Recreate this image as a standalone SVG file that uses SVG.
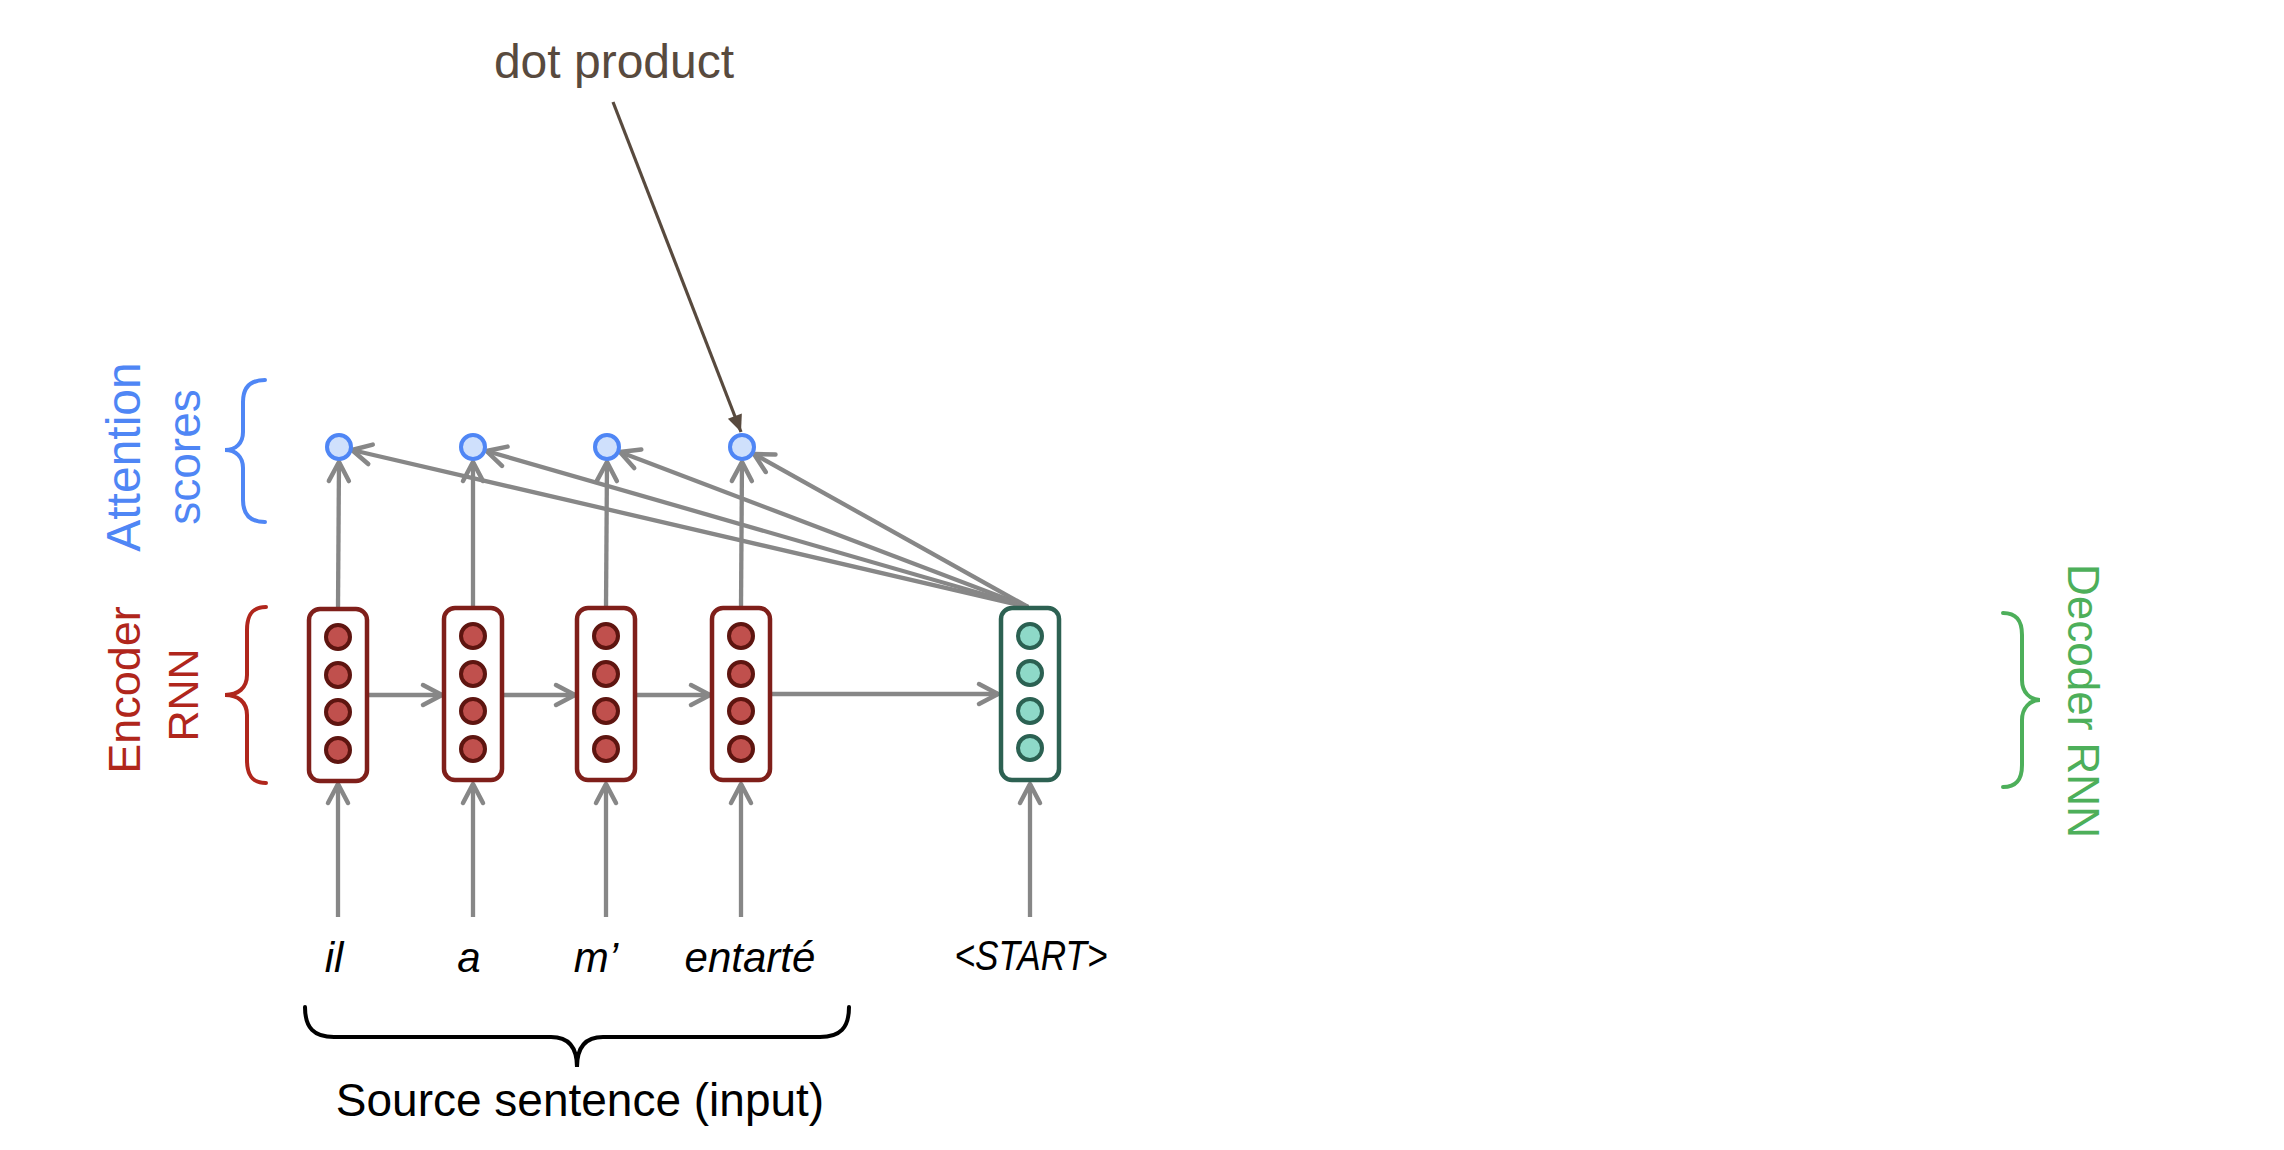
<svg xmlns="http://www.w3.org/2000/svg" width="2284" height="1150" viewBox="0 0 2284 1150">
<style>
.enc{fill:#ffffff;stroke:#7f1f1a;stroke-width:4.5}
.encc{fill:#c0504d;stroke:#5e1510;stroke-width:4}
.dec{fill:#ffffff;stroke:#2d6152;stroke-width:4.5}
.decc{fill:#8ed9c8;stroke:#2b6152;stroke-width:4}
.score{fill:#cfe0fc;stroke:#4f86f5;stroke-width:4}
.conn{stroke:#878787;stroke-width:4.3;fill:none;marker-end:url(#arr)}
.word{font-family:"Liberation Sans",Arial,sans-serif;font-style:italic;font-size:42px;fill:#000;text-anchor:middle}
.lbl{font-family:"Liberation Sans",Arial,sans-serif;text-anchor:middle}
.brace{fill:none;stroke-width:4;stroke-linecap:round}
</style>
<defs>
<marker id="arr" markerUnits="userSpaceOnUse" markerWidth="30" markerHeight="30" viewBox="-25 -15 30 30" refX="0" refY="0" orient="auto" overflow="visible">
<path d="M-19,-10 L0,0 L-19,10" fill="none" stroke="#878787" stroke-width="4.5" stroke-linecap="round" stroke-linejoin="round"/>
</marker>
<marker id="tri" markerUnits="userSpaceOnUse" markerWidth="30" markerHeight="30" viewBox="-25 -15 30 30" refX="0" refY="0" orient="auto" overflow="visible">
<path d="M-17,-7.5 L0,0 L-17,7.5 z" fill="#584a3e"/>
</marker>
</defs>
<rect width="2284" height="1150" fill="#ffffff"/>

<g id="connectors">
<line class="conn" x1="338" y1="917" x2="338" y2="784"/>
<line class="conn" x1="473" y1="917" x2="473" y2="784"/>
<line class="conn" x1="606" y1="917" x2="606" y2="784"/>
<line class="conn" x1="741" y1="917" x2="741" y2="784"/>
<line class="conn" x1="1030" y1="917" x2="1030" y2="784"/>
<line class="conn" x1="368" y1="695" x2="442" y2="695"/>
<line class="conn" x1="503" y1="695" x2="575" y2="695"/>
<line class="conn" x1="635" y1="695" x2="710" y2="695"/>
<line class="conn" x1="771" y1="694" x2="998" y2="694"/>
<line class="conn" x1="338" y1="607" x2="339" y2="462"/>
<line class="conn" x1="473" y1="607" x2="473" y2="462"/>
<line class="conn" x1="606" y1="607" x2="607" y2="462"/>
<line class="conn" x1="741" y1="607" x2="742" y2="462"/>
<line class="conn" x1="1028" y1="607" x2="352" y2="450"/>
<line class="conn" x1="1028" y1="607" x2="486.5" y2="451"/>
<line class="conn" x1="1028" y1="607" x2="620" y2="452"/>
<line class="conn" x1="1028" y1="607" x2="754" y2="454"/>
<line x1="613" y1="102" x2="741" y2="432" stroke="#584a3e" stroke-width="3.2" marker-end="url(#tri)"/>
</g>

<g id="enc1">
<rect class="enc" x="309" y="609" width="58" height="172" rx="11"/>
<circle class="encc" cx="338" cy="637" r="12"/>
<circle class="encc" cx="338" cy="675" r="12"/>
<circle class="encc" cx="338" cy="712" r="12"/>
<circle class="encc" cx="338" cy="750" r="12"/>
</g>
<g id="enc2">
<rect class="enc" x="444" y="608" width="58" height="172" rx="11"/>
<circle class="encc" cx="473" cy="636" r="12"/>
<circle class="encc" cx="473" cy="674" r="12"/>
<circle class="encc" cx="473" cy="711" r="12"/>
<circle class="encc" cx="473" cy="749" r="12"/>
</g>
<g id="enc3">
<rect class="enc" x="577" y="608" width="58" height="172" rx="11"/>
<circle class="encc" cx="606" cy="636" r="12"/>
<circle class="encc" cx="606" cy="674" r="12"/>
<circle class="encc" cx="606" cy="711" r="12"/>
<circle class="encc" cx="606" cy="749" r="12"/>
</g>
<g id="enc4">
<rect class="enc" x="712" y="608" width="58" height="172" rx="11"/>
<circle class="encc" cx="741" cy="636" r="12"/>
<circle class="encc" cx="741" cy="674" r="12"/>
<circle class="encc" cx="741" cy="711" r="12"/>
<circle class="encc" cx="741" cy="749" r="12"/>
</g>
<g id="dec1">
<rect class="dec" x="1001" y="608" width="58" height="172" rx="11"/>
<circle class="decc" cx="1030" cy="636" r="12"/>
<circle class="decc" cx="1030" cy="673" r="12"/>
<circle class="decc" cx="1030" cy="711" r="12"/>
<circle class="decc" cx="1030" cy="748" r="12"/>
</g>

<g id="score1"><circle class="score" cx="339" cy="447" r="12"/></g>
<g id="score2"><circle class="score" cx="473" cy="447" r="12"/></g>
<g id="score3"><circle class="score" cx="607" cy="447" r="12"/></g>
<g id="score4"><circle class="score" cx="742" cy="447" r="12"/></g>

<g id="dot-product-label">
<text class="lbl" x="614" y="78" font-size="48" fill="#584a3e">dot product</text>
</g>

<g id="words">
<text class="word" x="334" y="972">il</text>
<text class="word" x="469" y="972">a</text>
<text class="word" x="596" y="972">m’</text>
<text class="word" x="750" y="972">entarté</text>
<text class="word" x="1031" y="970" font-size="40" textLength="153" lengthAdjust="spacingAndGlyphs">&lt;START&gt;</text>
</g>

<g id="source-brace">
<path class="brace" stroke="#000" d="M305,1007 C305,1028 314,1037 334,1037 L551,1037 C569,1037 577,1048 577,1067 C577,1048 585,1037 603,1037 L820,1037 C840,1037 849,1028 849,1007"/>
<text class="lbl" x="580" y="1116" font-size="46" fill="#000">Source sentence (input)</text>
</g>

<g id="attention-label">
<path class="brace" stroke="#4f86f5" d="M265,380 C250,380 243,388 243,402 L243,432 C243,443 236,450 225,450 C236,450 243,457 243,468 L243,500 C243,514 250,522 265,522"/>
<text class="lbl" font-size="48" fill="#4f86f5" transform="translate(140,457) rotate(-90)">Attention</text>
<text class="lbl" font-size="46" fill="#4f86f5" transform="translate(200,457) rotate(-90)">scores</text>
</g>

<g id="encoder-label">
<path class="brace" stroke="#b0261c" d="M266,607 C252,607 247,615 247,630 L247,675 C247,688 238,695 225,695 C238,695 247,702 247,715 L247,760 C247,775 252,783 266,783"/>
<text class="lbl" font-size="45" fill="#b0261c" transform="translate(140,690) rotate(-90)">Encoder</text>
<text class="lbl" font-size="43" fill="#b0261c" transform="translate(198,695) rotate(-90)">RNN</text>
</g>

<g id="decoder-label">
<path class="brace" stroke="#4daf5a" d="M2003,613 C2016,613 2022,620 2022,635 L2022,680 C2022,692 2030,700 2040,700 C2030,700 2022,708 2022,720 L2022,765 C2022,780 2016,787 2003,787"/>
<text class="lbl" font-size="44" fill="#4daf5a" transform="translate(2068,701) rotate(90)">Decoder RNN</text>
</g>
</svg>
